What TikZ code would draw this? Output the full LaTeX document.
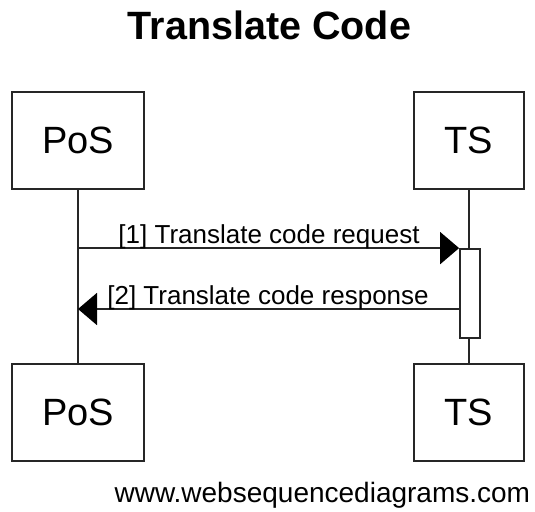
\documentclass[tikz,border=0pt]{standalone}
\usepackage{fontspec}
\setmainfont{Liberation Sans}
\usetikzlibrary{arrows.meta,positioning}

\begin{document}
\begin{tikzpicture}[x=1pt,y=-1pt,line width=1.8pt,
		actor/.style={draw=black!85,fill=white,inner sep=0pt,minimum height=97pt,
			font=\fontsize{38}{40}\selectfont},
		activation/.style={draw=black!85,fill=white,inner sep=0pt,minimum width=20pt,minimum height=89pt},
		lifeline/.style={draw=black!85},
		msg/.style={draw=black!85,-{Triangle[length=19pt,width=32pt,color=black]}},
		msglabel/.style={font=\fontsize{26}{28}\selectfont,inner sep=0pt,anchor=base}]
		\useasboundingbox (0,0) rectangle (535,511);
		% title
		\node[font=\bfseries\fontsize{39.5}{41}\selectfont,anchor=base] (title) at (269.5,40) {Translate Code};
		% participants
		\node[actor,minimum width=132pt] (pos top) at (78,140.5) {PoS};
		\node[actor,minimum width=110pt] (ts top) at (469,140.5) {TS};
		\node[actor,minimum width=132pt] (pos bottom) at (78,412.5) {PoS};
		\node[actor,minimum width=110pt] (ts bottom) at (469,412.5) {TS};
		\draw[lifeline] (pos top.south) -- (pos bottom.north);
		\draw[lifeline] (ts top.south) -- (ts bottom.north);
		\node[activation] (act) at (470,293.5) {};
		% messages
		\coordinate (reply) at (460,309);
		\draw[msg] (pos top.south |- act.north) -- (act.north west);
		\draw[msg] (reply) -- (reply -| pos top.south);
		\node[msglabel] (req) at (269,243) {[1] Translate code request};
		\node[msglabel] (resp) at (268,304) {[2] Translate code response};
		% footer
		\node[font=\fontsize{28}{30}\selectfont,anchor=base east,inner sep=0pt] (site) at (531,502) {www.websequencediagrams.com};
\end{tikzpicture}
\end{document}
